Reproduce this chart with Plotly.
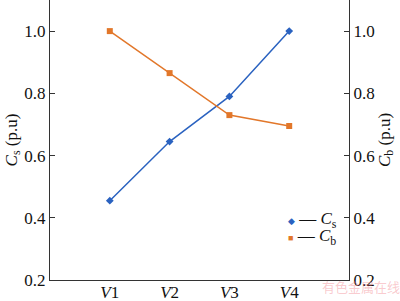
import plotly.graph_objects as go

categories = ["<i>V</i>1", "<i>V</i>2", "<i>V</i>3", "<i>V</i>4"]
cs_values = [0.455, 0.645, 0.79, 1.0]
cb_values = [1.0, 0.865, 0.73, 0.695]
y_ticks = [0.2, 0.4, 0.6, 0.8, 1.0]
y_tick_labels = ["0.2", "0.4", "0.6", "0.8", "1.0"]

blue = "#2a62c0"
orange = "#e2772a"
font_family = "Liberation Serif"
text_color = "#111"

x_idx = list(range(len(categories)))

fig = go.Figure()
fig.add_trace(go.Scatter(x=x_idx, y=cs_values, mode="lines+markers",
                         line=dict(color=blue, width=1.5),
                         marker=dict(symbol="diamond", size=6, color=blue),
                         showlegend=False))
fig.add_trace(go.Scatter(x=x_idx, y=cb_values, mode="lines+markers", yaxis="y2",
                         line=dict(color=orange, width=1.5),
                         marker=dict(symbol="square", size=6, color=orange),
                         showlegend=False))

axis_font = dict(family=font_family, size=17, color=text_color)

legend_items = [
    ("◆", blue, "<i>C</i><sub>s</sub>", 0.215),
    ("■", orange, "<i>C</i><sub>b</sub>", 0.155),
]
annotations = []
for glyph, color, label, ypos in legend_items:
    annotations.append(dict(
        text=f"<span style='color:{color};font-size:9px'>{glyph}</span> — {label}",
        x=0.79, y=ypos, xref="paper", yref="paper", xanchor="left", yanchor="middle",
        showarrow=False, font=dict(family=font_family, size=17, color=text_color)))

annotations.append(dict(text="有色金属在线", x=1.0, y=0, xref="paper", yref="paper",
                        xanchor="left", yanchor="middle", showarrow=False, xshift=-29, yshift=-6,
                        font=dict(family="Noto Sans CJK SC", size=13, color="rgba(240,120,130,0.4)")))

fig.update_layout(
    width=400, height=301,
    margin=dict(l=50, r=51, t=0, b=21, autoexpand=False),
    paper_bgcolor="white", plot_bgcolor="white",
    font=dict(family=font_family, size=17, color=text_color),
    showlegend=False,
    xaxis=dict(range=[-1, 4], tickmode="array", tickvals=x_idx, ticktext=categories,
               showline=True, linecolor="#333", linewidth=1, ticks="", showgrid=False,
               zeroline=False, tickfont=axis_font, automargin=False, ticklabelstandoff=-3),
    yaxis=dict(range=[0.2, 1.1], tickmode="array", tickvals=y_ticks, ticktext=y_tick_labels,
               showline=True, linecolor="#333", linewidth=1, ticks="inside", ticklen=5,
               tickcolor="#333", showgrid=False, zeroline=False, tickfont=axis_font,
               automargin=False,
               title=dict(text="<i>C</i><sub>s</sub> (p.u)", font=axis_font, standoff=2)),
    yaxis2=dict(range=[0.2, 1.1], tickmode="array", tickvals=y_ticks, ticktext=y_tick_labels,
                overlaying="y", side="right",
                showline=True, linecolor="#333", linewidth=1, ticks="inside", ticklen=5,
                tickcolor="#333", showgrid=False, zeroline=False, tickfont=axis_font,
                automargin=False,
                title=dict(text="<i>C</i><sub>b</sub> (p.u)", font=axis_font, standoff=2)),
    annotations=annotations,
)

fig.write_html("out.html")
